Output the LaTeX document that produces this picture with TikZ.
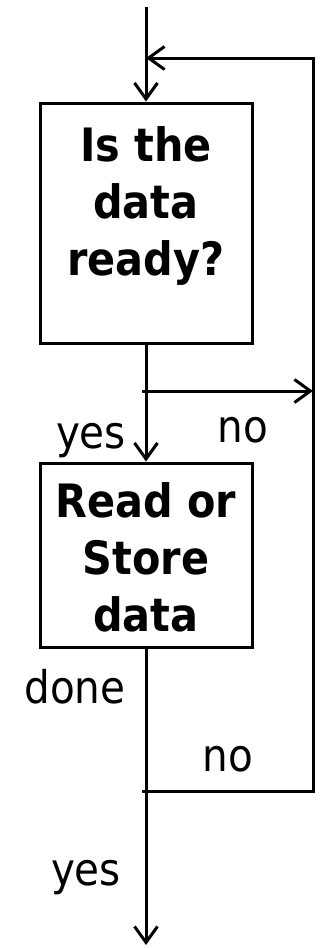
\documentclass[tikz,border=0pt]{standalone}
\usepackage{fontspec}
\setmainfont{DejaVu Sans Condensed}
\usetikzlibrary{arrows.meta, positioning}

\tikzset{
  flowbox/.style={draw, line width=3pt, minimum width=212pt, inner sep=0pt},
  boxtext/.style={font=\fontsize{46}{57}\selectfont\bfseries, align=center, inner sep=0pt},
  lbl/.style={font=\fontsize{45}{54}\selectfont, inner sep=0pt, anchor=base},
  flow/.style={line width=3pt, -{Straight Barb[length=16pt, width=23pt]}},
}

\begin{document}
\begin{tikzpicture}[x=1pt, y=-1pt]
  \useasboundingbox (0,0) rectangle (320,948);

  % the two steps
  \node[flowbox, minimum height=240pt] (ready) at (146,223) {};
  \node[boxtext, anchor=north] (readytxt) at (146,126) {Is the\\data\\ready?};
  \node[flowbox, minimum height=184pt] (rw) at (146,555) {};
  \node[boxtext] (rwtxt) at (146,557) {Read or\\Store\\data};

  % points on the main line and the return rail
  \coordinate (start) at (146,7);
  \coordinate (join) at (146,58);
  \coordinate (split) at (146,391);
  \coordinate (back) at (146,791);
  \coordinate (rail) at (313,391);
  \coordinate (exit) at (146,945);

  % connectors
  \draw[flow] (start) -- (ready.north);
  \draw[flow] (ready.south) -- (rw.north);
  \draw[flow] ([xshift=-4pt]split) -- (rail);
  \draw[flow] ([xshift=-4pt]back) -| (rail) |- (join);
  \draw[flow] (rw.south) -- (exit);

  % branch labels
  \node[lbl] (yes1) at (91,448) {yes};
  \node[lbl] (no1) at (243,442) {no};
  \node[lbl] (done) at (75,703) {done};
  \node[lbl] (no2) at (228,771) {no};
  \node[lbl] (yes2) at (86,885) {yes};
\end{tikzpicture}
\end{document}
